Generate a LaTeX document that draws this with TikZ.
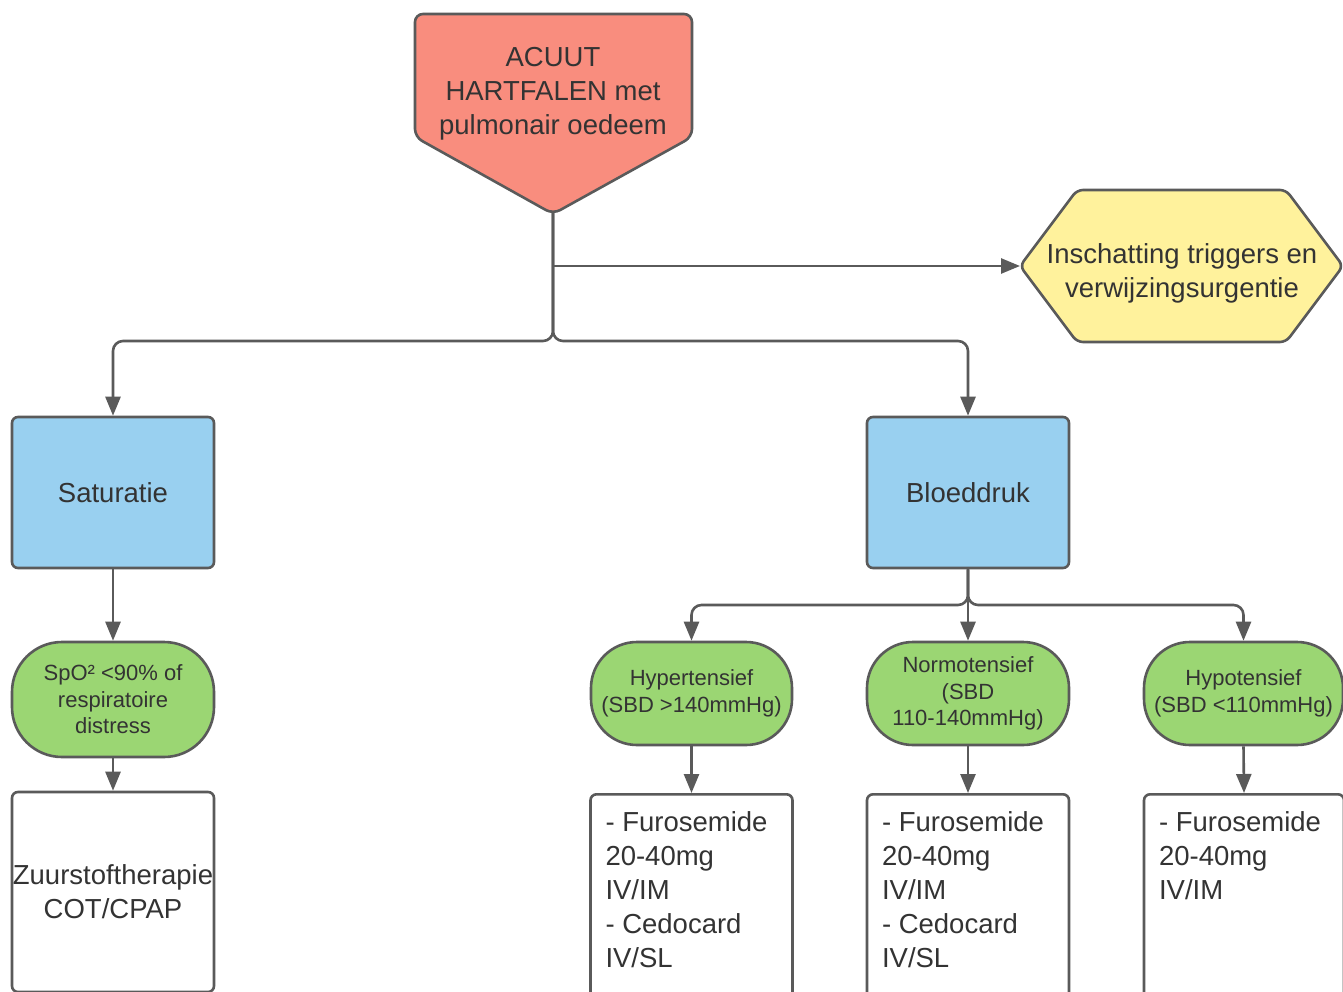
\documentclass[tikz,border=0pt]{standalone}
\usepackage{fontspec}
\setmainfont{Liberation Sans}
\usetikzlibrary{arrows.meta}

\definecolor{edgegrey}{HTML}{5A5A5A}
\definecolor{ink}{HTML}{333333}
\definecolor{alarmred}{HTML}{F98D7E}
\definecolor{noteyellow}{HTML}{FFF29C}
\definecolor{boxblue}{HTML}{99D0F0}
\definecolor{pillgreen}{HTML}{9BD673}

\newcommand\fsbig{\fontsize{27.5}{34}\selectfont}
\newcommand\fssmall{\fontsize{22}{26.5}\selectfont}

\tikzset{
  base/.style={draw=edgegrey, line width=2.6pt, text=ink},
  bluebox/.style={base, fill=boxblue, rounded corners=6pt,
    minimum width=202pt, minimum height=151pt, font=\fsbig},
  pill/.style={base, fill=pillgreen, rounded corners=46pt,
    minimum width=201pt, minimum height=103pt, align=center,
    font=\fssmall, inner sep=0pt},
  drugbox/.style={base, fill=white, rounded corners=6pt,
    minimum width=202pt, inner xsep=15pt, inner ysep=17pt,
    anchor=north, font=\fsbig},
  conn/.style={draw=edgegrey, line width=2.6pt,
    -{Triangle[width=15pt,length=19pt]}, rounded corners=10pt},
}

\begin{document}
\begin{tikzpicture}[x=1pt, y=-1pt]
  \clip (0,0) rectangle (1343,992);
  \fill[white] (0,0) rectangle (1343,992);

  % start: pentagon pointing down
  \draw[base, fill=alarmred, rounded corners=8pt]
    (415,14) -- (692,14) -- (692,137) -- (553,214) -- (415,137) -- cycle;
  \node[text=ink, font=\fsbig, align=center] (acute) at (553,93.5)
    {ACUUT\\HARTFALEN met\\pulmonair oedeem};
  \coordinate (tip) at (553,213);

  % side note: hexagon
  \draw[base, fill=noteyellow, rounded corners=6pt]
    (1020,266) -- (1077,190) -- (1286,190) -- (1343,266)
    -- (1286,342) -- (1077,342) -- cycle;
  \node[text=ink, font=\fsbig, align=center] (triggers) at (1182,273)
    {Inschatting triggers en\\verwijzingsurgentie};
  \coordinate (hexW) at (1020,266);

  % assessment boxes
  \node[bluebox] (sat) at (113,492.5) {Saturatie};
  \node[bluebox] (bp)  at (968,492.5) {Bloeddruk};

  % saturation branch
  \node[pill, minimum width=202pt, minimum height=115pt, rounded corners=50pt]
    (spo) at (113,699.5) {SpO² <90\% of\\respiratoire\\distress};
  \node[base, fill=white, rounded corners=6pt, minimum width=202pt,
    minimum height=200pt, font=\fsbig, align=center, inner sep=0pt]
    (oxy) at (113,892) {Zuurstoftherapie\\COT/CPAP};

  % blood pressure branch
  \node[pill] (hyper) at (691.5,693.5) {Hypertensief\\(SBD >140mmHg)};
  \node[pill, minimum width=202pt] (normo) at (968,693.5)
    {Normotensief\\(SBD\\110-140mmHg)};
  \node[pill, minimum width=199pt] (hypo) at (1243.5,693.5)
    {Hypotensief\\(SBD <110mmHg)};

  \node[drugbox] (rxhyper) at (691.5,793)
    {\parbox[t][180pt][t]{172pt}{\raggedright - Furosemide\\20-40mg\\IV/IM\\- Cedocard\\IV/SL}};
  \node[drugbox] (rxnormo) at (968,793)
    {\parbox[t][180pt][t]{172pt}{\raggedright - Furosemide\\20-40mg\\IV/IM\\- Cedocard\\IV/SL}};
  \node[drugbox, minimum width=200pt] (rxhypo) at (1244,793)
    {\parbox[t][180pt][t]{170pt}{\raggedright - Furosemide\\20-40mg\\IV/IM}};

  % connectors
  \coordinate (busA)  at (553,341);
  \coordinate (split) at (553,266);
  \coordinate (busB)  at (968,605);

  \draw[conn] (tip) -- (busA) -| (sat.north);
  \draw[conn] (tip) -- (busA) -| (bp.north);
  \draw[conn, rounded corners=0pt] (split) -- (hexW);

  \draw[conn] (sat.south) -- (spo.north);
  \draw[conn] (spo.south) -- (oxy.north);

  \draw[conn] (bp.south) -- (busB) -| (hyper.north);
  \draw[conn] (bp.south) -- (busB) -| (hypo.north);
  \draw[conn] (bp.south) -- (normo.north);

  \draw[conn] (hyper.south) -- (rxhyper.north);
  \draw[conn] (normo.south) -- (rxnormo.north);
  \draw[conn] (hypo.south) -- (rxhypo.north);
\end{tikzpicture}
\end{document}
